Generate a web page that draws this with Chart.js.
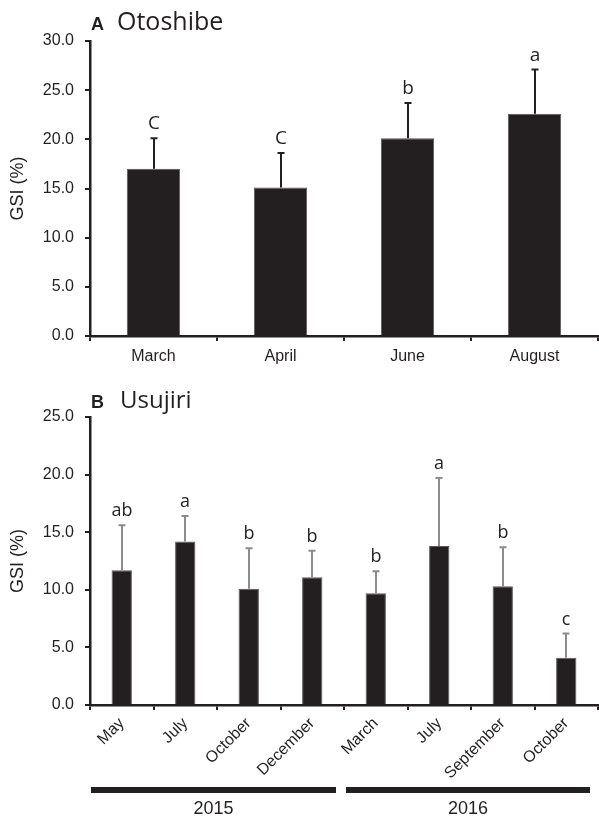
<!DOCTYPE html>
<html><head><meta charset="utf-8">
<script src="https://cdn.jsdelivr.net/npm/chart.js@4"></script>
<style>
html,body{margin:0;padding:0;background:#fff;width:599px;height:817px;overflow:hidden;}
.box{position:absolute;left:0;width:599px;}
#b1{top:0;height:380px;}
#b2{top:380px;height:437px;}
</style></head><body>
<div class="box" id="b1"><canvas id="c1"></canvas></div>
<div class="box" id="b2"><canvas id="c2"></canvas></div>
<script>
// ---- Panel A: Otoshibe ----
const topCategories = ['March', 'April', 'June', 'August'];
const topMeans = [17.0, 15.1, 20.1, 22.6];
const topErrors = [3.1, 3.5, 3.6, 4.5];
const topLetters = ['C', 'C', 'b', 'a'];
const topTicks = [0, 5, 10, 15, 20, 25, 30];

// ---- Panel B: Usujiri ----
const botCategories = ['May', 'July', 'October', 'December', 'March', 'July', 'September', 'October'];
const botMeans = [11.7, 14.2, 10.1, 11.1, 9.7, 13.8, 10.3, 4.1];
const botErrors = [3.9, 2.2, 3.5, 2.3, 1.9, 5.9, 3.4, 2.1];
const botLetters = ['ab', 'a', 'b', 'b', 'b', 'a', 'b', 'c'];
const botTicks = [0, 5, 10, 15, 20, 25];
const years = ['2015', '2016'];
const yearCounts = [4, 4];

const INK = '#231f20';
const TICKFONT = 'Liberation Sans, Arial, sans-serif';

function annotPlugin(errs, letters, errColor, letterFont) {
  return {
    id: 'annot',
    afterDatasetsDraw(chart) {
      const ctx = chart.ctx, xs = chart.scales.x, ys = chart.scales.y;
      const data = chart.data.datasets[0].data;
      ctx.save();
      data.forEach((v, i) => {
        const px = Math.round(xs.getPixelForValue(i));
        const y0 = ys.getPixelForValue(v), y1 = ys.getPixelForValue(v + errs[i]);
        ctx.strokeStyle = errColor; ctx.lineWidth = 2;
        ctx.beginPath();
        ctx.moveTo(px, y0); ctx.lineTo(px, y1);
        ctx.moveTo(px - 3.5, y1); ctx.lineTo(px + 3.5, y1);
        ctx.stroke();
        ctx.fillStyle = INK; ctx.font = letterFont;
        ctx.textAlign = 'center'; ctx.textBaseline = 'alphabetic';
        ctx.fillText(letters[i], px, y1 - 9);
      });
      ctx.restore();
    }
  };
}

function titlePlugin(letter, name, baseY, nameX, nameSize) {
  return {
    id: 'ptitle',
    afterDraw(chart) {
      const ctx = chart.ctx;
      ctx.save();
      ctx.fillStyle = INK; ctx.textBaseline = 'alphabetic'; ctx.textAlign = 'left';
      ctx.font = 'bold 18px ' + TICKFONT;
      ctx.fillText(letter, 91, baseY);
      ctx.font = nameSize + 'px "Open Sans"';
      ctx.fillText(name, nameX, baseY);
      ctx.restore();
    }
  };
}

const yearPlugin = {
  id: 'years',
  afterDraw(chart) {
    const ctx = chart.ctx, xs = chart.scales.x;
    const half = (xs.getPixelForValue(1) - xs.getPixelForValue(0)) / 2;
    let start = 0;
    ctx.save();
    years.forEach((yr, k) => {
      const end = start + yearCounts[k] - 1;
      const x0 = xs.getPixelForValue(start) - half + (k === 0 ? 1 : 2);
      const x1 = xs.getPixelForValue(end) + half - 8;
      ctx.fillStyle = INK;
      ctx.fillRect(x0, 407, x1 - x0, 6);
      ctx.font = '18px ' + TICKFONT;
      ctx.textAlign = 'center'; ctx.textBaseline = 'middle';
      ctx.fillText(yr, (x0 + x1) / 2, 429);
      start = end + 1;
    });
    ctx.restore();
  }
};

function yScale(max, ticks, width) {
  return {
    min: 0, max: max,
    afterBuildTicks: s => { s.ticks = ticks.map(v => ({ value: v })); },
    afterFit: s => { s.width = width; },
    border: { display: true, color: INK, width: 2.5 },
    grid: { display: true, drawOnChartArea: false, drawTicks: true, tickLength: 5, color: INK, lineWidth: 2 },
    ticks: { color: INK, font: { family: TICKFONT, size: 16 }, padding: 11, callback: v => Number(v).toFixed(1) },
    title: { display: true, text: 'GSI (%)', color: INK, font: { family: TICKFONT, size: 18 }, padding: { top: 7, bottom: 0 } }
  };
}

const common = {
  responsive: true, maintainAspectRatio: false, animation: false,
  plugins: { legend: { display: false }, tooltip: { enabled: false } }
};

new Chart(document.getElementById('c1'), {
  type: 'bar',
  data: { labels: topCategories, datasets: [{ data: topMeans, backgroundColor: INK, borderColor: '#5a5758', borderWidth: 1, barPercentage: 0.42, categoryPercentage: 1.0 }] },
  options: Object.assign({}, common, {
    layout: { padding: { top: 41, right: 1, left: 0, bottom: 0 } },
    scales: {
      x: {
        afterFit: s => { s.height = 44; },
        border: { display: true, color: INK, width: 2.5 },
        grid: { display: true, drawOnChartArea: false, drawTicks: true, tickLength: 5, color: INK, lineWidth: 2, offset: true },
        ticks: { color: INK, font: { family: TICKFONT, size: 16 }, padding: 6, maxRotation: 0 }
      },
      y: yScale(30, topTicks, 90)
    }
  }),
  plugins: [annotPlugin(topErrors, topLetters, INK, '19px "Open Sans"'), titlePlugin('A', 'Otoshibe', 30, 117, 25)]
});

new Chart(document.getElementById('c2'), {
  type: 'bar',
  data: { labels: botCategories, datasets: [{ data: botMeans, backgroundColor: INK, borderColor: '#5a5758', borderWidth: 1, barPercentage: 0.32, categoryPercentage: 1.0 }] },
  options: Object.assign({}, common, {
    layout: { padding: { top: 37, right: 1, left: 0, bottom: 0 } },
    scales: {
      x: {
        afterFit: s => { s.height = 112; },
        border: { display: true, color: INK, width: 2.5 },
        grid: { display: true, drawOnChartArea: false, drawTicks: true, tickLength: 5, color: INK, lineWidth: 2, offset: true },
        ticks: { color: INK, font: { family: TICKFONT, size: 16 }, padding: 4, minRotation: 45, maxRotation: 45 }
      },
      y: yScale(25, botTicks, 90)
    }
  }),
  plugins: [annotPlugin(botErrors, botLetters, '#8c8c8c', '18px "Open Sans"'), titlePlugin('B', 'Usujiri', 28, 120, 24), yearPlugin]
});
</script>
</body></html>
